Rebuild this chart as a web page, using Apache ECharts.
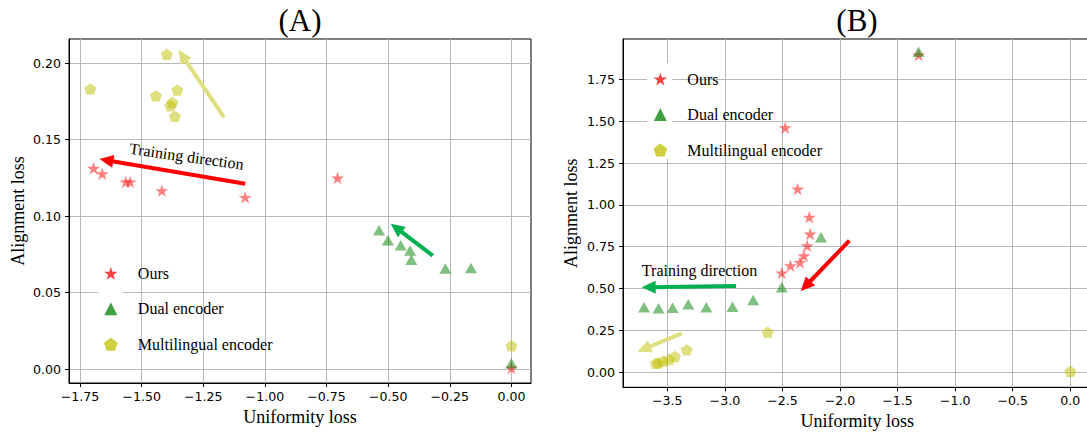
<!DOCTYPE html>
<html>
<head>
<meta charset="utf-8">
<script src="https://cdn.jsdelivr.net/npm/echarts@6/dist/echarts.min.js"></script>
<style>
  html, body { margin: 0; padding: 0; background: #fff; }
  #main { width: 1087px; height: 432px; }
</style>
</head>
<body>
<div id="main"></div>
<script>
// ---- panel (A) ----
const oursA = [[-1.695, 0.1312], [-1.660, 0.1276], [-1.564, 0.1222], [-1.547, 0.1222], [-1.418, 0.1166], [-1.080, 0.1122], [-0.705, 0.1248], [0.0, 0.0007]];
const dualA = [[-0.537, 0.0907], [-0.501, 0.0841], [-0.449, 0.0809], [-0.411, 0.0775], [-0.406, 0.0714], [-0.268, 0.0657], [-0.164, 0.0660], [0.0, 0.0037]];
const multiA = [[-1.398, 0.2057], [-1.708, 0.1831], [-1.442, 0.1785], [-1.355, 0.1823], [-1.375, 0.1743], [-1.384, 0.1721], [-1.365, 0.1651], [0.0, 0.0152]];
// arrows: [tail, head]
const redArrowA = [[-1.080, 0.1211], [-1.643, 0.1365]];
const yellowArrowA = [[-1.166, 0.1647], [-1.335, 0.2049]];
const greenArrowA = [[-0.319, 0.0741], [-0.467, 0.0922]];
const noteA = [-1.318, 0.1390];

// ---- panel (B) ----
const oursB = [[-1.318, 1.895], [-2.476, 1.461], [-2.368, 1.095], [-2.267, 0.926], [-2.260, 0.826], [-2.285, 0.756], [-2.314, 0.696], [-2.348, 0.656], [-2.431, 0.636], [-2.506, 0.593]];
const dualB = [[-1.318, 1.915], [-2.165, 0.806], [-2.506, 0.508], [-2.754, 0.432], [-2.934, 0.392], [-3.161, 0.388], [-3.318, 0.407], [-3.454, 0.386], [-3.576, 0.383], [-3.702, 0.388]];
const multiB = [[0.0, 0.006], [-2.629, 0.239], [-3.332, 0.134], [-3.434, 0.094], [-3.485, 0.076], [-3.535, 0.067], [-3.578, 0.056], [-3.600, 0.053]];
const greenArrowB = [[-2.903, 0.5154], [-3.662, 0.508]];
const redArrowB = [[-1.919, 0.786], [-2.299, 0.5154]];
const yellowArrowB = [[-3.375, 0.233], [-3.704, 0.139]];
const noteB = [-3.220, 0.607];

// ticks
const xTicksA = [-1.75, -1.5, -1.25, -1, -0.75, -0.5, -0.25, 0];
const yTicksA = [0, 0.05, 0.1, 0.15, 0.2];
const xTicksB = [-3.5, -3, -2.5, -2, -1.5, -1, -0.5, 0];
const yTicksB = [0, 0.25, 0.5, 0.75, 1, 1.25, 1.5, 1.75];

const names = ['Ours', 'Dual encoder', 'Multilingual encoder'];
const noteText = 'Training direction';

// marker shapes (matplotlib *, ^, p)
function polyPath(n, rIn) {
  let p = '';
  const steps = rIn ? n * 2 : n;
  for (let k = 0; k < steps; k++) {
    const r = rIn && k % 2 ? rIn : 1;
    const a = Math.PI / 2 + k * 2 * Math.PI / steps;
    p += (k ? 'L' : 'M') + (r * Math.cos(a)).toFixed(4) + ',' + (-r * Math.sin(a)).toFixed(4);
  }
  return 'path://' + p + 'Z';
}
const STAR = polyPath(5, 0.382);
const PENTA = polyPath(5);
const TRI = 'path://M0,-1L1,1L-1,1Z';

const RED = '#ff0000', GREEN = '#008000', YELLOW = '#bfbf00';
const serif = 'Liberation Serif';
const sans = 'DejaVu Sans';

const fmt = (d) => (v) => (v < 0 ? '\u2212' : '') + Math.abs(v).toFixed(d);

function xAxis(gi, min, max, ticks, dec) {
  return {
    gridIndex: gi, type: 'value', min: min, max: max,
    name: 'Uniformity loss', nameLocation: 'middle', nameGap: 24,
    nameTextStyle: { fontFamily: serif, fontSize: 18, color: '#000' },
    axisLine: { show: true, onZero: false, lineStyle: { color: '#000', width: 1 } },
    axisTick: { show: true, customValues: ticks, length: 4, lineStyle: { color: '#000', width: 1 } },
    axisLabel: { customValues: ticks, formatter: fmt(dec), margin: 7, fontFamily: sans, fontSize: 12.6, color: '#000' },
    splitLine: { show: true, lineStyle: { color: '#b8b8b8', width: 1 } }
  };
}
function yAxis(gi, min, max, ticks, gap) {
  return {
    gridIndex: gi, type: 'value', min: min, max: max,
    name: 'Alignment loss', nameLocation: 'middle', nameGap: gap, nameRotate: 90,
    nameTextStyle: { fontFamily: serif, fontSize: 18, color: '#000' },
    axisLine: { show: true, onZero: false, lineStyle: { color: '#000', width: 1 } },
    axisTick: { show: true, customValues: ticks, length: 4, lineStyle: { color: '#000', width: 1 } },
    axisLabel: { customValues: ticks, formatter: fmt(2), margin: 8, fontFamily: sans, fontSize: 12.6, color: '#000' },
    splitLine: { show: true, lineStyle: { color: '#b8b8b8', width: 1 } }
  };
}

function arrow(pts, color) {
  return {
    silent: true, animation: false,
    symbol: ['none', 'triangle'], symbolSize: [13, 14],
    label: { show: false },
    lineStyle: { type: 'solid', width: 4, color: color, opacity: 1 },
    itemStyle: { color: color, opacity: 1 },
    emphasis: { disabled: true },
    data: [[{ coord: pts[0] }, { coord: pts[1] }]]
  };
}
function note(pos, rot) {
  return {
    silent: true, animation: false, symbol: 'circle', symbolSize: 0,
    label: { show: true, position: 'inside', formatter: noteText, rotate: rot,
      fontFamily: serif, fontSize: 16, color: '#000' },
    data: [{ coord: pos }]
  };
}

function scatter(name, data, gi, symbol, size, color, extra) {
  return Object.assign({
    type: 'scatter', name: name, data: data, xAxisIndex: gi, yAxisIndex: gi,
    symbol: symbol, symbolSize: size,
    itemStyle: { color: color, opacity: 0.5 },
    emphasis: { disabled: true }, z: 3
  }, extra || {});
}

const legendData = [
  { name: names[0], icon: STAR, itemStyle: { color: '#ff4040', opacity: 1 } },
  { name: names[1], icon: TRI, itemStyle: { color: '#40a040', opacity: 1 } },
  { name: names[2], icon: PENTA, itemStyle: { color: '#cfcf40', opacity: 1 } }
];
function legend(left, top) {
  return {
    orient: 'vertical', left: left, top: top, padding: 0,
    itemWidth: 44, itemHeight: 13, itemGap: 19.5, selectedMode: false,
    textStyle: { fontFamily: serif, fontSize: 16, color: '#000', lineHeight: 16 },
    data: legendData
  };
}

const chart = echarts.init(document.getElementById('main'), null, { renderer: 'svg' });
chart.setOption({
  animation: false,
  backgroundColor: '#fff',
  grid: [
    { left: 69, top: 39, width: 462, height: 344, show: true, borderColor: '#000', borderWidth: 1, outerBoundsMode: 'none' },
    { left: 623, top: 39, width: 468.6, height: 348.3, show: true, borderColor: '#000', borderWidth: 1, outerBoundsMode: 'none' }
  ],
  xAxis: [
    xAxis(0, -1.7946, 0.0795, xTicksA, 2),
    xAxis(1, -3.885, 0.185, xTicksB, 1)
  ],
  yAxis: [
    yAxis(0, -0.00915, 0.2157, yTicksA, 42.5),
    yAxis(1, -0.0896, 1.9907, yTicksB, 43.3)
  ],
  legend: [legend(104, 265.3), legend(653.5, 71)],
  graphic: [
    { type: 'text', x: 300, y: 20, style: { text: '(A)', font: '31px "Liberation Serif"', fill: '#000', align: 'center', verticalAlign: 'middle' } },
    { type: 'text', x: 857, y: 20, style: { text: '(B)', font: '31px "Liberation Serif"', fill: '#000', align: 'center', verticalAlign: 'middle' } },
    { type: 'rect', z: 1, shape: { x: 98, y: 258, width: 25, height: 96 }, style: { fill: '#fff' } },
    { type: 'rect', z: 1, shape: { x: 647, y: 63, width: 25, height: 96 }, style: { fill: '#fff' } }
  ],
  series: [
    scatter(names[0], oursA, 0, STAR, [13, 12.4], RED, { markLine: arrow(redArrowA, '#ff0000'), markPoint: note(noteA, -8) }),
    scatter(names[1], dualA, 0, TRI, [12, 10.5], GREEN, { markLine: arrow(greenArrowA, '#00b050') }),
    scatter(names[2], multiA, 0, PENTA, [12, 11.4], YELLOW, { markLine: arrow(yellowArrowA, '#dfdf80') }),
    scatter(names[0], oursB, 1, STAR, [13, 12.4], RED, { markLine: arrow(redArrowB, '#ff0000') }),
    scatter(names[1], dualB, 1, TRI, [12, 10.5], GREEN, { markLine: arrow(greenArrowB, '#00b050'), markPoint: note(noteB, 0) }),
    scatter(names[2], multiB, 1, PENTA, [12, 11.4], YELLOW, { markLine: arrow(yellowArrowB, '#dfdf80') })
  ]
});
</script>
</body>
</html>
